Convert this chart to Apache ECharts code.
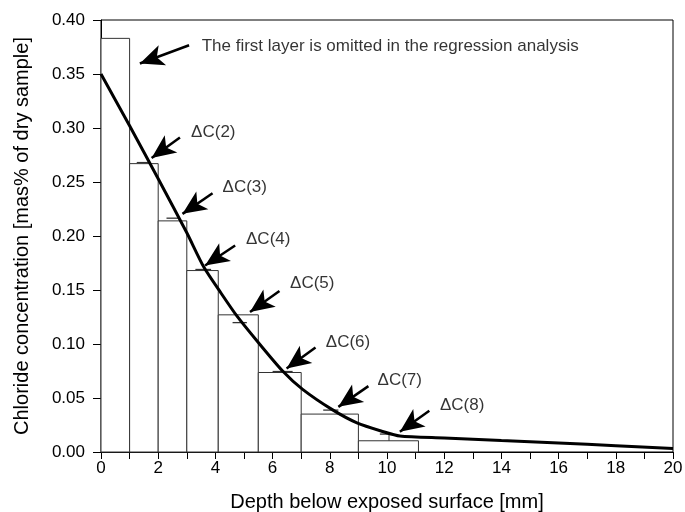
<!DOCTYPE html>
<html><head><meta charset="utf-8">
<script src="https://cdn.jsdelivr.net/npm/echarts@6/dist/echarts.min.js"></script>
<style>html,body{margin:0;padding:0;background:#fff}#c{width:685px;height:512px}</style>
</head><body><div id="c"></div>
<script>
// Layer boundaries (mm) and measured chloride content per layer
var layerStart = [0, 1, 2, 3, 4.1, 5.5, 7, 9];
var layerEnd   = [1, 2, 3, 4.1, 5.5, 7, 9, 11.1];
var layerValue = [0.383, 0.267, 0.214, 0.168, 0.127, 0.0736, 0.0351, 0.0104];

// Small markers of fitted layer averages
var markStart = [1.25, 2.29, 3.3, 4.6, 6.0, 7.77, 9.75];
var markEnd   = [1.65, 2.76, 3.85, 5.1, 6.7, 8.3, 10.07];
var markValue = [0.268, 0.2165, 0.169, 0.1198, 0.0745, 0.0388, 0.0166];

// Fitted profile
var curveX = [0, 1, 2, 3, 3.6, 4.2, 4.75, 5.45, 6.35, 7.05, 8.1, 8.95, 9.85, 10.45, 12, 14, 16, 18, 20];
var curveY = [0.350, 0.302, 0.253, 0.203, 0.171, 0.147, 0.126, 0.103, 0.075, 0.058, 0.039, 0.027, 0.019, 0.0148, 0.0130, 0.0107, 0.0084, 0.0058, 0.0032];

// Annotations: label text, label anchor, arrow tail, arrow head
var noteText  = ['The first layer is omitted in the regression analysis', 'ΔC(2)', 'ΔC(3)', 'ΔC(4)', 'ΔC(5)', 'ΔC(6)', 'ΔC(7)', 'ΔC(8)'];
var noteX     = [3.52, 3.15, 4.25, 5.07, 6.61, 7.86, 9.67, 11.85];
var noteY     = [0.376, 0.296, 0.245, 0.1965, 0.1558, 0.1019, 0.0665, 0.0434];
var arrowFromX = [3.08, 2.76, 3.90, 4.69, 6.24, 7.50, 9.35, 11.48];
var arrowFromY = [0.3766, 0.2913, 0.2395, 0.1912, 0.149, 0.0967, 0.061, 0.0382];
var arrowToX   = [1.36, 1.77, 2.85, 3.64, 5.21, 6.49, 8.30, 10.45];
var arrowToY   = [0.3597, 0.2722, 0.2205, 0.1727, 0.1296, 0.0773, 0.0418, 0.0188];

var xTicks = [0, 2, 4, 6, 8, 10, 12, 14, 16, 18, 20];

var FONT = 'Liberation Sans, Arial, Helvetica, sans-serif';
var chart = echarts.init(document.getElementById('c'), null, {renderer: 'canvas'});

var bars = layerStart.map(function (s, i) { return [s, layerEnd[i], layerValue[i]]; });
var marks = markStart.map(function (s, i) { return [s, markEnd[i], markValue[i]]; });
var curve = curveX.map(function (x, i) { return [x, curveY[i]]; });
var notes = noteText.map(function (t, i) { return {name: t, value: [noteX[i], noteY[i]]}; });
var arrows = arrowFromX.map(function (x, i) {
  return [{coord: [x, arrowFromY[i]]}, {coord: [arrowToX[i], arrowToY[i]]}];
});

chart.setOption({
  animation: false,
  backgroundColor: '#fff',
  grid: {left: 101, right: 12, top: 20, bottom: 60, outerBoundsMode: 'none', containLabel: false,
    show: true, borderColor: '#000', borderWidth: 1, backgroundColor: 'transparent'},
  xAxis: {
    type: 'value', min: 0, max: 20, interval: 1,
    name: 'Depth below exposed surface [mm]', nameLocation: 'middle', nameGap: 40,
    nameTextStyle: {fontFamily: FONT, fontSize: 20, color: '#000'},
    axisLine: {show: true, lineStyle: {color: '#000', width: 1}},
    axisTick: {show: true, length: 7, lineStyle: {color: '#000'}},
    axisLabel: {fontFamily: FONT, fontSize: 17, color: '#000', margin: 8,
      formatter: function (v) { return xTicks.indexOf(v) >= 0 ? String(v) : ''; }},
    splitLine: {show: false}
  },
  yAxis: {
    type: 'value', min: 0, max: 0.4, interval: 0.05,
    name: 'Chloride concentration [mas% of dry sample]', nameLocation: 'middle', nameGap: 69,
    nameTextStyle: {fontFamily: FONT, fontSize: 20, color: '#000'},
    axisLine: {show: true, lineStyle: {color: '#000', width: 1}},
    axisTick: {show: true, length: 8, lineStyle: {color: '#000'}},
    axisLabel: {fontFamily: FONT, fontSize: 17, color: '#000', margin: 16,
      formatter: function (v) { return v.toFixed(2); }},
    splitLine: {show: false}
  },
  series: [
    {
      type: 'custom', name: 'layers', data: bars, z: 2,
      renderItem: function (params, api) {
        var p0 = api.coord([api.value(0), api.value(2)]);
        var p1 = api.coord([api.value(1), 0]);
        return {type: 'rect', shape: {x: p0[0], y: p0[1], width: p1[0] - p0[0], height: p1[1] - p0[1]},
          style: {fill: '#fff', stroke: '#333', lineWidth: 1}};
      }
    },
    {
      type: 'custom', name: 'marks', data: marks, z: 3,
      renderItem: function (params, api) {
        var a = api.coord([api.value(0), api.value(2)]);
        var b = api.coord([api.value(1), api.value(2)]);
        return {type: 'line', shape: {x1: a[0], y1: a[1], x2: b[0], y2: b[1]},
          style: {stroke: '#333', lineWidth: 1.3}};
      }
    },
    {
      type: 'line', name: 'step', z: 3, symbol: 'none', silent: true,
      data: [[markEnd[6], layerValue[7]], [markEnd[6], markValue[6]]],
      lineStyle: {color: '#333', width: 1}
    },
    {
      type: 'line', name: 'fit', data: curve, symbol: 'none', z: 4, smooth: 0.25,
      lineStyle: {color: '#000', width: 3}
    },
    {
      type: 'scatter', name: 'notes', data: notes, symbolSize: 0, z: 5, silent: true,
      label: {show: true, position: 'right', distance: 0, color: '#000', fontFamily: FONT, fontSize: 17,
        formatter: function (p) { return p.name; }},
      markLine: {
        silent: true, symbol: ['none', 'arrow'], symbolSize: [16, 24],
        label: {show: false},
        lineStyle: {color: '#000', width: 2.5, type: 'solid'},
        data: arrows
      }
    }
  ]
});
</script></body></html>
